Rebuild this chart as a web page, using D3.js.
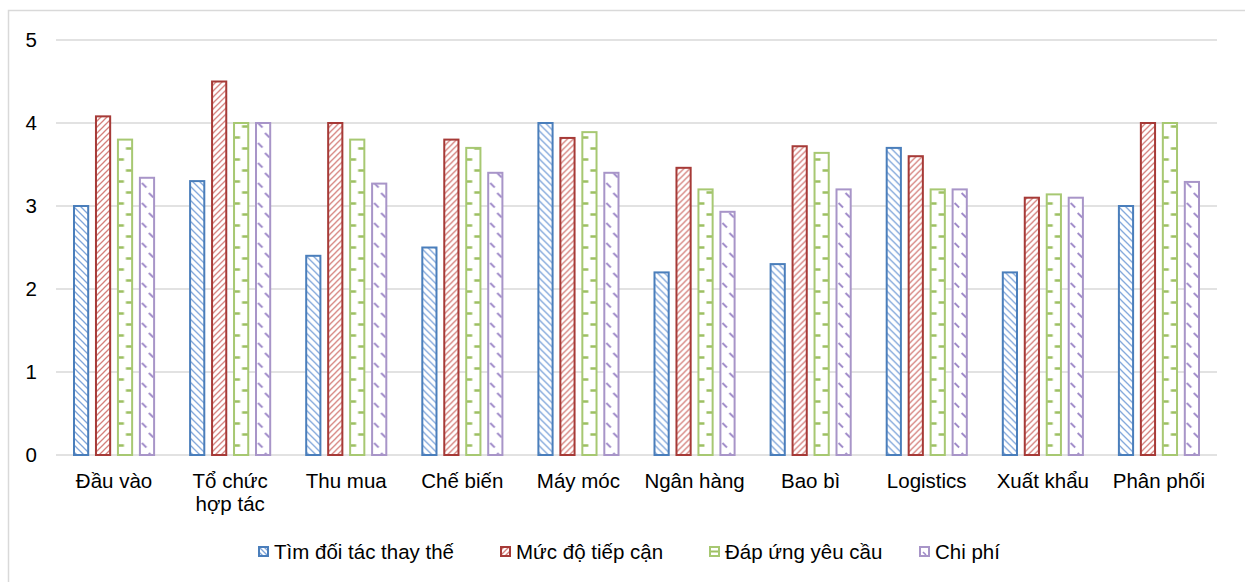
<!DOCTYPE html>
<html><head><meta charset="utf-8">
<script src="https://cdn.jsdelivr.net/npm/d3@7"></script>
<style>body{margin:0;background:#fff;}svg{display:block;}</style>
</head><body>
<script>
const categories = ["Đầu vào","Tổ chức\nhợp tác","Thu mua","Chế biến","Máy móc","Ngân hàng","Bao bì","Logistics","Xuất khẩu","Phân phối"];
const seriesNames = ["Tìm đối tác thay thế","Mức độ tiếp cận","Đáp ứng yêu cầu","Chi phí"];
const timDoiTac = [3.0,3.3,2.4,2.5,4.0,2.2,2.3,3.7,2.2,3.0];
const mucDoTiepCan = [4.08,4.5,4.0,3.8,3.82,3.46,3.72,3.6,3.1,4.0];
const dapUngYeuCau = [3.8,4.0,3.8,3.7,3.89,3.2,3.64,3.2,3.14,4.0];
const chiPhi = [3.34,4.0,3.27,3.4,3.4,2.93,3.2,3.2,3.1,3.29];
const yTicks = [0,1,2,3,4,5];

const seriesValues = [timDoiTac, mucDoTiepCan, dapUngYeuCau, chiPhi];
const strokeColors = ["#4A7EBB","#A63A37","#A7C872","#A895C8"];
const patColors = ["#7FA5DA","#D5807C","#9DC062","#9F8AC9"];

const W = 1245, H = 582;
const svg = d3.select("body").append("svg").attr("width", W).attr("height", H);
const font = "'Liberation Sans', Arial, sans-serif";

svg.append("rect").attr("x",8.5).attr("y",10.5).attr("width",1260).attr("height",620)
  .attr("fill","#fff").attr("stroke","#d9d9d9").attr("stroke-width",1.5);

const x0 = d3.scaleBand().domain(d3.range(categories.length)).range([56,1217]).padding(0);
const x1 = d3.scaleBand().domain(d3.range(4)).range([17, x0.bandwidth()-17]).paddingInner(0.263).paddingOuter(0);
const y = d3.scaleLinear().domain([0,5]).range([455,40]);

const defs = svg.append("defs");
function pat(id, w, h, draw){
  const p = defs.append("pattern").attr("id",id).attr("patternUnits","userSpaceOnUse")
    .attr("x",0).attr("y",0).attr("width",w).attr("height",h);
  p.append("rect").attr("width",w).attr("height",h).attr("fill","#fff");
  draw(p);
}
// bar patterns (group-local coordinates)
const gW = x0.bandwidth();
const gx = x1(2)+1, px = x1(3)+1;
pat("p0",7,7,p=>p.append("path").attr("d","M-1,-1L8,8M-1,6L1,8M6,-1L8,1").attr("stroke",patColors[0]).attr("stroke-width",1.3));
pat("p1",6,6,p=>p.append("path").attr("d","M-1,7L7,-1M-1,1L1,-1M5,7L7,5").attr("stroke",patColors[1]).attr("stroke-width",1.3));
pat("p2",gW,22,p=>p.append("path").attr("d",`M${gx},5.5h6M${gx+8},16.5h8`).attr("stroke",patColors[2]).attr("stroke-width",2.4));
pat("p3",gW,20,p=>p.append("path").attr("d",`M${px+2},3l4.5,4.5M${px+9},13l4.5,4.5`).attr("stroke",patColors[3]).attr("stroke-width",1.8));
// legend patterns
pat("l0",5,5,p=>p.append("path").attr("d","M-1,-1L6,6M-1,4L1,6M4,-1L6,1").attr("stroke",patColors[0]).attr("stroke-width",1.3));
pat("l1",5,5,p=>p.append("path").attr("d","M-1,6L6,-1M-1,1L1,-1M4,6L6,4").attr("stroke",patColors[1]).attr("stroke-width",1.3));
pat("l2",12,12,p=>p.append("path").attr("d","M0,5.5H12").attr("stroke",patColors[2]).attr("stroke-width",2));
pat("l3",12,12,p=>p.append("path").attr("d","M4,6l3,3").attr("stroke",patColors[3]).attr("stroke-width",1.6));

svg.append("g").selectAll("line").data(yTicks).join("line")
  .attr("x1",56).attr("x2",1217).attr("y1",d=>y(d)).attr("y2",d=>y(d))
  .attr("stroke","#d9d9d9").attr("stroke-width",1.5);

svg.append("g").selectAll("text").data(yTicks).join("text")
  .attr("x",37).attr("y",d=>y(d)+7).attr("text-anchor","end")
  .attr("font-family",font).attr("font-size",20.5).attr("fill","#000").text(d=>d);

const groups = svg.append("g").selectAll("g").data(categories).join("g")
  .attr("transform",(d,i)=>`translate(${x0(i)},0)`);
groups.selectAll("rect").data((d,i)=>seriesValues.map((s,k)=>({k, v:s[i]}))).join("rect")
  .attr("x",d=>x1(d.k)+1).attr("width",x1.bandwidth()-2)
  .attr("y",d=>y(d.v)).attr("height",d=>y(0)-y(d.v))
  .attr("fill",d=>`url(#p${d.k})`).attr("stroke",d=>strokeColors[d.k]).attr("stroke-width",2);

const xl = svg.append("g").selectAll("text").data(categories).join("text")
  .attr("font-family",font).attr("font-size",20.5).attr("text-anchor","middle").attr("fill","#000");
xl.each(function(d,i){
  const t = d3.select(this);
  d.split("\n").forEach((ln,j)=>{
    t.append("tspan").attr("x",x0(i)+x0.bandwidth()/2).attr("y",488+j*23).text(ln);
  });
});

const legX = [258,500,709,919];
const leg = svg.append("g").selectAll("g").data(seriesNames).join("g")
  .attr("transform",(d,i)=>`translate(${legX[i]},546)`);
leg.append("rect").attr("x",1).attr("y",1).attr("width",9).attr("height",9)
  .attr("fill",(d,i)=>`url(#l${i})`).attr("stroke",(d,i)=>strokeColors[i]).attr("stroke-width",2);
leg.append("text").attr("x",16).attr("y",13).attr("font-family",font).attr("font-size",20.5)
  .attr("fill","#000").text(d=>d);
</script>
</body></html>
